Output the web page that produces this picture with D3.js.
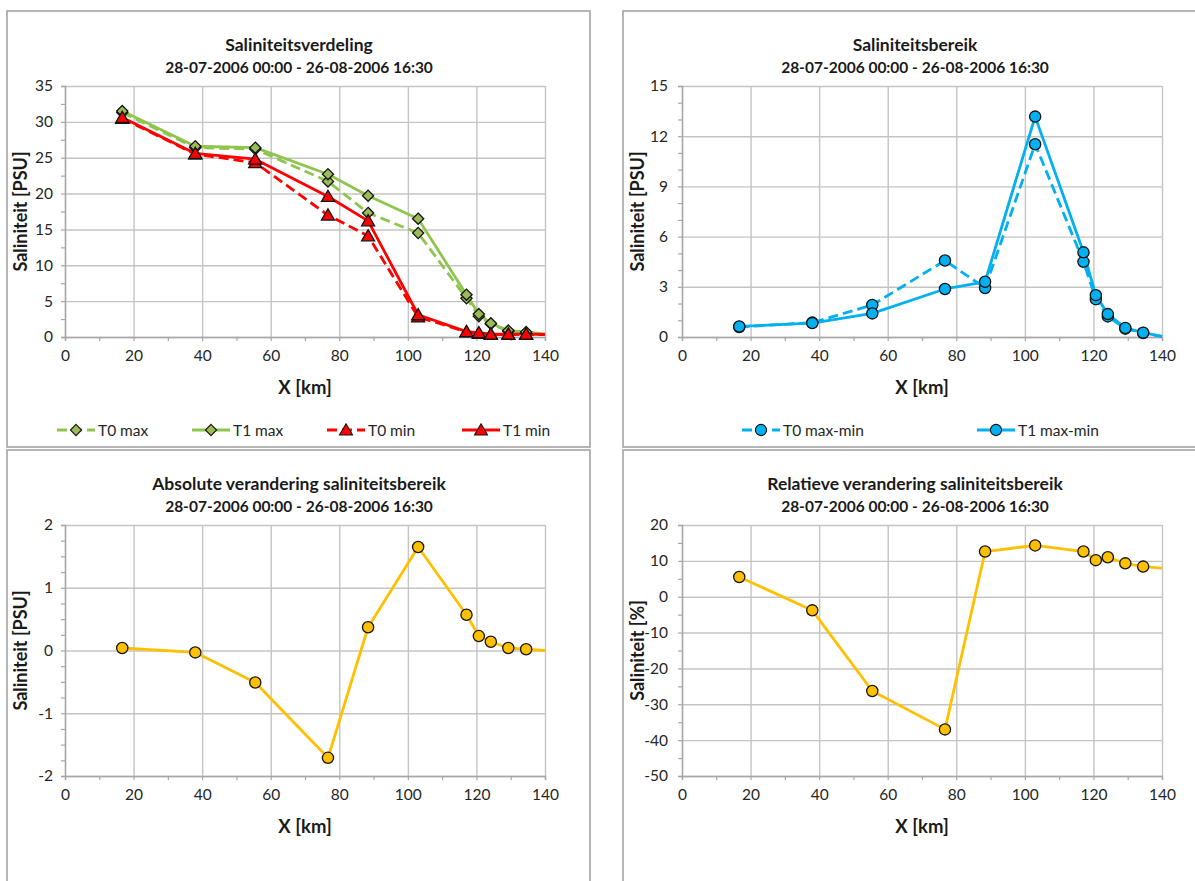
<!DOCTYPE html>
<html>
<head>
<meta charset="utf-8">
<script src="https://cdn.jsdelivr.net/npm/d3@7"></script>
<style>
  html, body { margin: 0; padding: 0; background: #fff; }
  svg { display: block; font-family: Lato, "Open Sans", sans-serif; }
</style>
</head>
<body>
<svg id="chart" width="1195" height="881"></svg>
<script>
// ---- data -------------------------------------------------------------
const period = "28-07-2006 00:00 - 26-08-2006 16:30";

// measuring stations along the estuary (km); the last entry is the open end of the lines
const km = [16.7, 38.0, 55.5, 76.7, 88.4, 103.0, 117.1, 120.7, 124.2, 129.3, 134.5, 140];

// salinity extremes [PSU]
const t0Max = [31.3, 26.4, 26.2, 21.7, 17.3, 14.5, 5.4, 2.9, 1.8, 0.8, 0.5, 0.4];
const t1Max = [31.5, 26.6, 26.4, 22.7, 19.7, 16.5, 5.9, 3.2, 1.9, 0.9, 0.7, 0.4];
const t0Min = [30.5, 25.5, 24.3, 17.0, 14.1, 2.8, 0.7, 0.5, 0.35, 0.35, 0.35, 0.35];
const t1Min = [30.6, 25.6, 24.8, 19.6, 16.2, 3.1, 0.75, 0.6, 0.4, 0.4, 0.4, 0.35];

// salinity range (max - min) [PSU]
const t0Range = [0.60, 0.86, 1.91, 4.57, 2.93, 11.52, 4.49, 2.26, 1.23, 0.50, 0.24, 0.03];
const t1Range = [0.63, 0.83, 1.41, 2.87, 3.30, 13.17, 5.06, 2.50, 1.37, 0.54, 0.26, 0.04];

// change of the range between T0 and T1
const absChange = [0.04, -0.03, -0.51, -1.71, 0.37, 1.65, 0.57, 0.23, 0.14, 0.04, 0.02, 0.0];
const relChange = [5.5, -3.8, -26.3, -37.0, 12.6, 14.3, 12.6, 10.2, 11.0, 9.3, 8.4, 8.0];

// axis ticks
const xTicks = [0, 20, 40, 60, 80, 100, 120, 140];
const yTicksDistribution = [0, 5, 10, 15, 20, 25, 30, 35];
const yTicksRange = [0, 3, 6, 9, 12, 15];
const yTicksAbs = [-2, -1, 0, 1, 2];
const yTicksRel = [-50, -40, -30, -20, -10, 0, 10, 20];

// ---- styling ----------------------------------------------------------
const GREEN_LINE = "#8fc54e", GREEN_FILL = "#9bbb59";
const RED = "#ff0000";
const BLUE = "#00b0f0";
const AMBER = "#ffc000";
const GRID = "#c4c4c4";
const DASH = "10,5";
const plainNumber = d => String(d);   // keep a plain hyphen for negatives

const svg = d3.select("#chart");

// marker shapes, centred on the data point
const diamond = s => `M0,${-s}L${s},0L0,${s}L${-s},0Z`;
const triangle = s => `M0,${-s}L${s * 1.05},${s * 0.8}L${-s * 1.05},${s * 0.8}Z`;
const circle = s => d3.arc()({ innerRadius: 0, outerRadius: s, startAngle: 0, endAngle: 2 * Math.PI });
const markerPath = { diamond: diamond(5.6), triangle: triangle(6.2), circle: circle(5.6) };

function drawPanel(cfg) {
  const { x, y, w, h } = cfg;
  const g = svg.append("g").attr("transform", `translate(${x},${y})`);

  // chart frame
  g.append("rect")
    .attr("x", 0).attr("y", 0).attr("width", w).attr("height", h)
    .attr("fill", "#fff").attr("stroke", "#a3a3a3").attr("stroke-width", 1.6);

  // titles
  g.append("text")
    .attr("x", 292).attr("y", 40)
    .attr("text-anchor", "middle")
    .attr("font-size", 17.5).attr("font-weight", 700).attr("fill", "#1a1a1a")
    .text(cfg.title);
  g.append("text")
    .attr("x", 292).attr("y", 61.5)
    .attr("text-anchor", "middle")
    .attr("font-size", 15.5).attr("font-weight", 700).attr("fill", "#1a1a1a")
    .text(period);

  // plot area
  const pl = cfg.plotLeft, pt = 75, pw = 480, ph = 251;
  const p = g.append("g").attr("transform", `translate(${pl},${pt})`);
  const xs = d3.scaleLinear().domain([0, 140]).range([0, pw]);
  const ys = d3.scaleLinear().domain(cfg.yDomain).range([ph, 0]);

  // gridlines
  p.append("g")
    .call(d3.axisLeft(ys).tickValues(cfg.yTicks).tickSize(-pw).tickFormat(""))
    .call(a => a.select(".domain").remove())
    .call(a => a.selectAll("line").attr("stroke", GRID).attr("stroke-width", 1.4));
  p.append("g")
    .attr("transform", `translate(0,${ph})`)
    .call(d3.axisBottom(xs).tickValues(xTicks).tickSize(-ph).tickFormat(""))
    .call(a => a.select(".domain").remove())
    .call(a => a.selectAll("line").attr("stroke", GRID).attr("stroke-width", 1.4));

  // minor tick marks on both axes
  const yMinor = d3.range(cfg.yDomain[0], cfg.yDomain[1] + 1e-9, cfg.yMinorStep);
  p.append("g")
    .call(d3.axisLeft(ys).tickValues(yMinor).tickSize(4).tickFormat(""))
    .call(a => a.select(".domain").attr("stroke", "#a6a6a6").attr("stroke-width", 1.4))
    .call(a => a.selectAll("line").attr("stroke", "#a6a6a6").attr("stroke-width", 1.2));
  p.append("g")
    .attr("transform", `translate(0,${ph})`)
    .call(d3.axisBottom(xs).tickValues(d3.range(0, 141, 10)).tickSize(4).tickFormat(""))
    .call(a => a.select(".domain").attr("stroke", "#a6a6a6").attr("stroke-width", 1.4))
    .call(a => a.selectAll("line").attr("stroke", "#a6a6a6").attr("stroke-width", 1.2));

  // tick labels
  p.append("g")
    .call(d3.axisLeft(ys).tickValues(cfg.yTicks).tickFormat(plainNumber).tickSize(0).tickPadding(cfg.yLabelPad))
    .call(a => a.select(".domain").remove())
    .call(a => a.selectAll("text").attr("font-size", 15.5).attr("fill", "#262626")
      .attr("font-family", "Lato, sans-serif"));
  p.append("g")
    .attr("transform", `translate(0,${ph})`)
    .call(d3.axisBottom(xs).tickValues(xTicks).tickFormat(plainNumber).tickSize(0).tickPadding(13))
    .call(a => a.select(".domain").remove())
    .call(a => a.selectAll("text").attr("font-size", 15.5).attr("fill", "#262626")
      .attr("font-family", "Lato, sans-serif"));

  // axis titles
  p.append("text")
    .attr("x", pw / 2).attr("y", ph + 57)
    .attr("text-anchor", "middle")
    .attr("font-size", 18.5).attr("font-weight", 700).attr("fill", "#1a1a1a")
    .text("X [km]");
  p.append("text")
    .attr("transform", `translate(${-38},${ph / 2}) rotate(-90)`)
    .attr("text-anchor", "middle")
    .attr("font-size", 18).attr("font-weight", 700).attr("fill", "#1a1a1a")
    .text(cfg.yTitle);

  // series
  const line = d3.line().x(d => xs(d[0])).y(d => ys(d[1]));
  cfg.series.forEach(s => {
    const pts = km.map((k, i) => [k, s.values[i]]);
    p.append("path")
      .attr("d", line(pts))
      .attr("fill", "none")
      .attr("stroke", s.color).attr("stroke-width", 2.8)
      .attr("stroke-linejoin", "round")
      .attr("stroke-dasharray", s.dashed ? DASH : null);
  });
  cfg.series.forEach(s => {
    const pts = km.slice(0, -1).map((k, i) => [k, s.values[i]]);
    p.append("g").selectAll("path")
      .data(pts)
      .join("path")
      .attr("transform", d => `translate(${xs(d[0])},${ys(d[1])})`)
      .attr("d", markerPath[s.marker])
      .attr("fill", s.fill)
      .attr("stroke", "#141414").attr("stroke-width", 1.3);
  });

  // legend
  if (cfg.legend) {
    const lg = g.append("g").attr("transform", `translate(0,419)`);
    cfg.series.forEach((s, i) => {
      const lx = cfg.legend.x0 + i * cfg.legend.step;
      lg.append("line")
        .attr("x1", lx).attr("x2", lx + 38).attr("y1", 0).attr("y2", 0)
        .attr("stroke", s.color).attr("stroke-width", 2.8)
        .attr("stroke-dasharray", s.dashed ? DASH : null);
      lg.append("path")
        .attr("transform", `translate(${lx + 19},0)`)
        .attr("d", markerPath[s.marker])
        .attr("fill", s.fill)
        .attr("stroke", "#141414").attr("stroke-width", 1.1);
      lg.append("text")
        .attr("x", lx + 41).attr("y", 5.5)
        .attr("font-size", 15.5).attr("fill", "#262626")
        .text(s.name);
    });
  }
}

drawPanel({
  x: 7, y: 11, w: 583, h: 436, plotLeft: 58, yLabelPad: 12,
  title: "Saliniteitsverdeling",
  yTitle: "Saliniteit [PSU]",
  yDomain: [0, 35], yTicks: yTicksDistribution, yMinorStep: 2.5,
  series: [
    { name: "T0 max", values: t0Max, color: GREEN_LINE, fill: GREEN_FILL, marker: "diamond", dashed: true },
    { name: "T1 max", values: t1Max, color: GREEN_LINE, fill: GREEN_FILL, marker: "diamond", dashed: false },
    { name: "T0 min", values: t0Min, color: RED, fill: RED, marker: "triangle", dashed: true },
    { name: "T1 min", values: t1Min, color: RED, fill: RED, marker: "triangle", dashed: false }
  ],
  legend: { x0: 50, step: 135 }
});

drawPanel({
  x: 623, y: 11, w: 600, h: 436, plotLeft: 59, yLabelPad: 14,
  title: "Saliniteitsbereik",
  yTitle: "Saliniteit [PSU]",
  yDomain: [0, 15], yTicks: yTicksRange, yMinorStep: 1,
  series: [
    { name: "T0 max-min", values: t0Range, color: BLUE, fill: BLUE, marker: "circle", dashed: true },
    { name: "T1 max-min", values: t1Range, color: BLUE, fill: BLUE, marker: "circle", dashed: false }
  ],
  legend: { x0: 119, step: 235 }
});

drawPanel({
  x: 7, y: 450, w: 583, h: 450, plotLeft: 58, yLabelPad: 12,
  title: "Absolute verandering saliniteitsbereik",
  yTitle: "Saliniteit [PSU]",
  yDomain: [-2, 2], yTicks: yTicksAbs, yMinorStep: 0.25,
  series: [
    { name: "T1 - T0", values: absChange, color: AMBER, fill: AMBER, marker: "circle", dashed: false }
  ]
});

drawPanel({
  x: 623, y: 450, w: 600, h: 450, plotLeft: 59, yLabelPad: 14,
  title: "Relatieve verandering saliniteitsbereik",
  yTitle: "Saliniteit [%]",
  yDomain: [-50, 20], yTicks: yTicksRel, yMinorStep: 5,
  series: [
    { name: "(T1 - T0) / T0", values: relChange, color: AMBER, fill: AMBER, marker: "circle", dashed: false }
  ]
});
</script>
</body>
</html>
